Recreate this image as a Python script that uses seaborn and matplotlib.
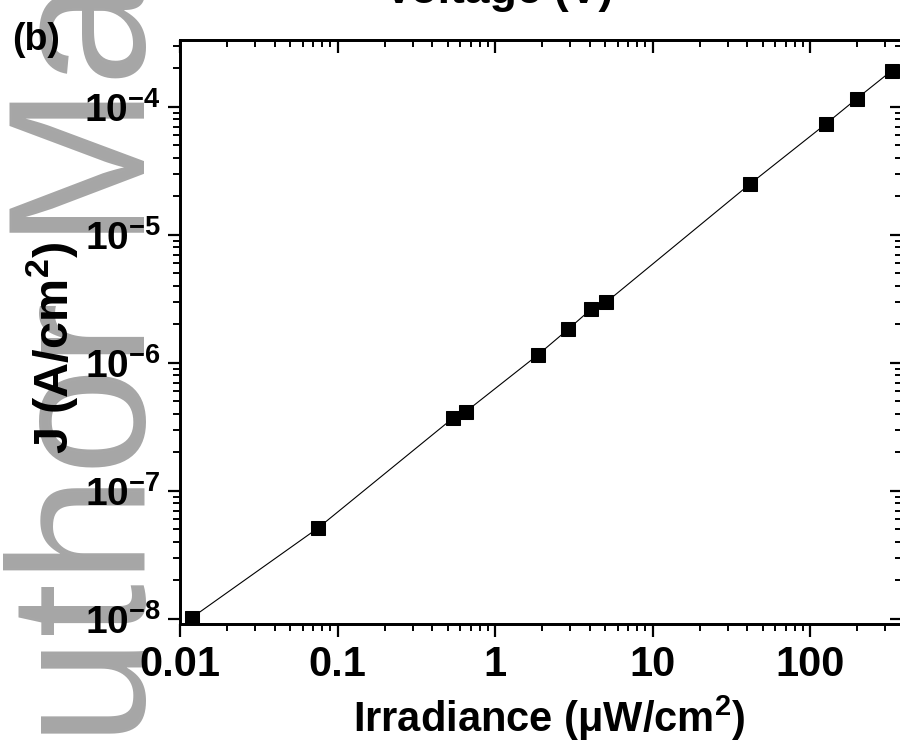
# recria o grafico J x irradiancia (painel b)
import numpy as np
import pandas as pd
import seaborn as sns
import matplotlib.pyplot as plt
from matplotlib.ticker import LogLocator, NullFormatter

# dados
irradiance = [0.0119, 0.0752, 0.539, 0.652, 1.87, 2.92, 4.09, 5.07, 41.6, 126, 198, 330]
current_density = [1.02e-8, 5.11e-8, 3.68e-7, 4.14e-7, 1.15e-6, 1.83e-6,
                   2.63e-6, 2.96e-6, 2.49e-5, 7.33e-5, 1.155e-4, 1.91e-4]

x_ticks = [0.01, 0.1, 1, 10, 100]
x_tick_labels = ["0.01", "0.1", "1", "10", "100"]
y_ticks = [1e-8, 1e-7, 1e-6, 1e-5, 1e-4]
y_tick_labels = [f"$10^{{{int(round(np.log10(v)))}}}$" for v in y_ticks]

# estilo
sns.set_theme(style="ticks", rc={"axes.edgecolor": "black", "xtick.color": "black",
                                 "ytick.color": "black", "text.color": "black",
                                 "axes.labelcolor": "black"})
plt.rcParams["font.family"] = ["Liberation Sans", "DejaVu Sans"]
plt.rcParams["font.weight"] = "bold"
plt.rcParams["axes.labelweight"] = "bold"
plt.rcParams["mathtext.fontset"] = "custom"
plt.rcParams["mathtext.rm"] = "Liberation Sans:bold"
plt.rcParams["mathtext.it"] = "Liberation Sans:bold"
plt.rcParams["mathtext.bf"] = "Liberation Sans:bold"
plt.rcParams["mathtext.default"] = "rm"

df = pd.DataFrame({"irr": irradiance, "J": current_density})

fig = plt.figure(figsize=(9, 7.42), dpi=100)
ax = fig.add_axes([0.2, 0.1594, 0.8022, 0.7867])

sns.lineplot(data=df, x="irr", y="J", ax=ax, color="black", linewidth=0.8,
             marker="s", markersize=9.5, markeredgecolor="black",
             markerfacecolor="black")

xlim = (0.01, 10 ** 2.584)
ylim = (10 ** -8.039, 10 ** -3.479)
ax.set_xscale("log")
ax.set_yscale("log")
ax.set_xlim(xlim)
ax.set_ylim(ylim)

ax.set_xticks(x_ticks, x_tick_labels)
ax.set_yticks(y_ticks, y_tick_labels)
ax.xaxis.set_minor_locator(LogLocator(base=10, subs=np.arange(2, 10), numticks=50))
ax.yaxis.set_minor_locator(LogLocator(base=10, subs=np.arange(2, 10), numticks=50))
ax.xaxis.set_minor_formatter(NullFormatter())
ax.yaxis.set_minor_formatter(NullFormatter())

ax.tick_params(which="major", direction="out", length=9, width=1.6)
ax.tick_params(which="minor", direction="out", length=5, width=1.4)
ax.tick_params(axis="x", which="major", labelsize=30, pad=6)
ax.tick_params(axis="y", which="major", labelsize=28, pad=5)
for s in ax.spines.values():
    s.set_linewidth(1.8)

# eixos espelhados (topo e direita) com ticks para dentro
ax_top = ax.twiny()
ax_top.set_xscale("log")
ax_top.set_xlim(xlim)
ax_top.set_xticks(x_ticks)
ax_top.xaxis.set_minor_locator(LogLocator(base=10, subs=np.arange(2, 10), numticks=50))
ax_top.xaxis.set_minor_formatter(NullFormatter())
ax_top.tick_params(axis="x", which="major", direction="in", length=9, width=1.6, labeltop=False)
ax_top.tick_params(axis="x", which="minor", direction="in", length=5, width=1.4)

ax_right = ax.twinx()
ax_right.set_yscale("log")
ax_right.set_ylim(ylim)
ax_right.set_yticks(y_ticks)
ax_right.yaxis.set_minor_locator(LogLocator(base=10, subs=np.arange(2, 10), numticks=50))
ax_right.yaxis.set_minor_formatter(NullFormatter())
ax_right.tick_params(axis="y", which="major", direction="in", length=9, width=1.6, labelright=False)
ax_right.tick_params(axis="y", which="minor", direction="in", length=5, width=1.4)
for a in (ax_top, ax_right):
    for s in a.spines.values():
        s.set_linewidth(1.8)

# rotulos
ax.set_xlabel("Irradiance (\u03bcW/cm$^{2}$)", fontsize=30, fontweight="bold")
ax.set_ylabel("J (A/cm$^{2}$)", fontsize=35, fontweight="bold")
ax.xaxis.set_label_coords(0.511, -0.1204)
ax.yaxis.set_label_coords(-0.1385, 0.472)

fig.text(12 / 900, 1 - 50 / 742, "(b)", fontsize=27, ha="left", va="baseline")
fig.text(613 / 900, 1 - 3 / 742, "Voltage (V)", fontsize=32, ha="right", va="baseline")

# marca d'agua
fig.text(145 / 900, 1 - 875 / 742, "Author Manuscript", rotation=90,
         rotation_mode="anchor", ha="left", va="baseline", fontsize=140,
         fontweight="normal", color="#a6a6a6", zorder=-1)

plt.savefig("out.png", dpi=100)
